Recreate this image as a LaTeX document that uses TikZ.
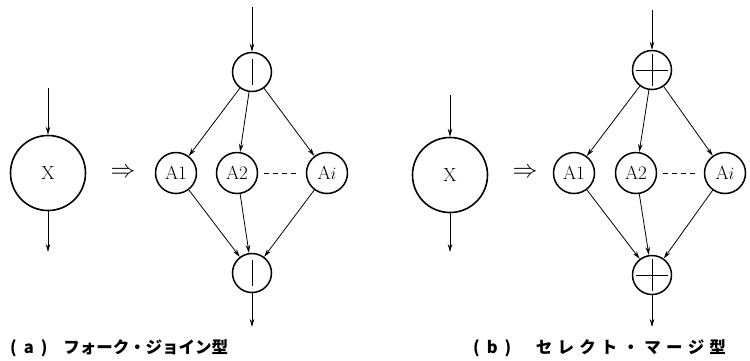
\documentclass[tikz,border=0pt]{standalone}
\usepackage{fontspec}
\newfontfamily\cjk{Noto Sans CJK JP}
\usetikzlibrary{arrows.meta}
\newcommand\wc[1]{\makebox[21.7pt]{#1}}
\begin{document}
\begin{tikzpicture}[x=1pt,y=-1pt,
  big/.style={circle,draw,line width=1.6pt,minimum size=75pt,inner sep=0pt,font=\fontsize{19}{19}\selectfont},
  ctl/.style={circle,draw,line width=1.5pt,minimum size=39pt,inner sep=0pt},
  act/.style={circle,draw,line width=1.5pt,minimum size=41pt,inner sep=0pt,font=\fontsize{19}{19}\selectfont},
  arr/.style={-{Stealth[length=8pt,width=4.5pt]},line width=0.8pt},
  mark1/.style={line width=0.6pt},
  dsh/.style={dashed,dash pattern=on 5pt off 4pt,line width=0.8pt,shorten >=6pt,shorten <=6pt},
  impl/.style={font=\fontsize{26}{26}\selectfont,inner sep=0pt},
  captext/.style={font=\cjk\bfseries\fontsize{16.5}{16.5}\selectfont,inner sep=0pt,anchor=base west}]
\useasboundingbox (0,0) rectangle (750,360);

% ---------- (a) ----------
\node[big] (x1) at (48,173) {X};
\coordinate (x1in) at (48,88);
\coordinate (x1out) at (48,252);
\draw[arr] (x1in) -- (x1);
\draw[arr] (x1) -- (x1out);
\node[impl] (imp1) at (123,173) {$\Rightarrow$};

\node[ctl] (f1) at (252,72) {};
\node[act] (a1) at (176,173) {A1};
\node[act] (a2) at (237,173) {A2};
\node[act] (ai) at (327,173) {A$i$};
\node[ctl] (j1) at (252,273) {};
\draw[mark1] ([yshift=13pt]f1.center) -- ([yshift=-13pt]f1.center);
\draw[mark1] ([yshift=13pt]j1.center) -- ([yshift=-13pt]j1.center);
\coordinate (f1in) at (252,7);
\coordinate (j1out) at (252,327);
\draw[arr] (f1in) -- (f1);
\draw[arr] (f1) -- (a1);
\draw[arr] (f1) -- (a2);
\draw[arr] (f1) -- (ai);
\draw[arr] (a1) -- (j1);
\draw[arr] (a2) -- (j1);
\draw[arr] (ai) -- (j1);
\draw[arr] (j1) -- (j1out);
\draw[dsh] (a2) -- (ai);
\node[captext] (capa) at (10,353) {(\hspace{7pt}a\hspace{7pt})\hspace{16pt}フォーク・ジョイン型};

% ---------- (b) ----------
\node[big] (x2) at (450,175) {X};
\coordinate (x2in) at (450,95);
\coordinate (x2out) at (450,252);
\draw[arr] (x2in) -- (x2);
\draw[arr] (x2) -- (x2out);
\node[impl] (imp2) at (525,173) {$\Rightarrow$};

\node[ctl] (s2) at (652,70) {};
\node[act] (b1) at (574,173) {A1};
\node[act] (b2) at (636,173) {A2};
\node[act] (bi) at (725,173) {A$i$};
\node[ctl] (m2) at (652,275) {};
\draw[mark1] ([yshift=16pt]s2.center) -- ([yshift=-16pt]s2.center);
\draw[mark1] ([xshift=-16pt]s2.center) -- ([xshift=16pt]s2.center);
\draw[mark1] ([yshift=16pt]m2.center) -- ([yshift=-16pt]m2.center);
\draw[mark1] ([xshift=-16pt]m2.center) -- ([xshift=16pt]m2.center);
\coordinate (s2in) at (652,10);
\coordinate (m2out) at (652,327);
\draw[arr] (s2in) -- (s2);
\draw[arr] (s2) -- (b1);
\draw[arr] (s2) -- (b2);
\draw[arr] (s2) -- (bi);
\draw[arr] (b1) -- (m2);
\draw[arr] (b2) -- (m2);
\draw[arr] (bi) -- (m2);
\draw[arr] (m2) -- (m2out);
\draw[dsh] (b2) -- (bi);
\node[captext] (capb) at (473,353) {(\hspace{7pt}b\hspace{7pt})\hspace{22pt}\wc{セ}\wc{レ}\wc{ク}\wc{ト}\wc{・}\wc{マ}\wc{ー}\wc{ジ}\wc{型}};
\end{tikzpicture}
\end{document}
